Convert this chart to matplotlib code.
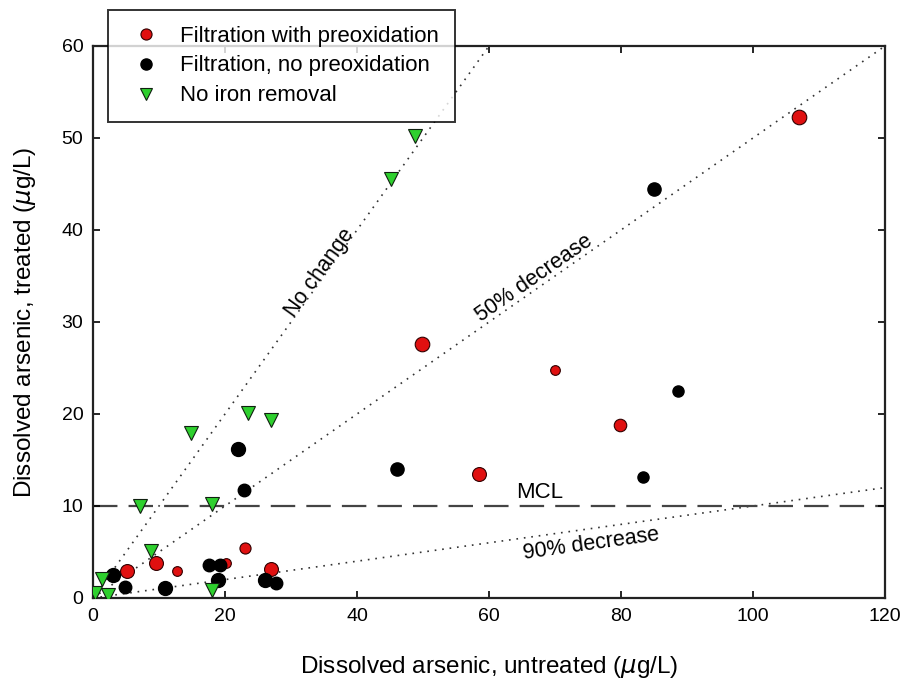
import numpy as np
import matplotlib
matplotlib.use('Agg')
import matplotlib.pyplot as plt

plt.rcParams['font.family'] = ['Liberation Sans', 'DejaVu Sans']

# ---------------
# Data (untreated vs treated arsenic, ug/L)

# Filtration with preoxidation
red_x = [107.0, 49.8, 70.0, 79.8, 58.5, 5.1, 9.5, 12.8, 20.2, 23.0, 26.9]
red_y = [52.3, 27.6, 24.8, 18.8, 13.5, 2.9, 3.8, 2.9, 3.8, 5.4, 3.2]
red_ms = [10.5, 10.5, 7, 9, 10, 10, 10, 7, 7, 8, 10]

# Filtration, no preoxidation
blk_x = [85.0, 88.7, 83.3, 46.0, 22.0, 22.9, 3.1, 4.8, 10.9, 17.5, 19.2, 19.0, 26.1, 27.8]
blk_y = [44.5, 22.5, 13.2, 14.0, 16.2, 11.7, 2.5, 1.2, 1.05, 3.6, 3.6, 2.0, 2.0, 1.6]
blk_ms = [9.5, 8, 8, 9.5, 10, 9, 10, 9, 10, 9, 9, 10, 10, 9]

# No iron removal
grn_x = [48.8, 45.2, 14.9, 23.5, 26.9, 7.1, 18.1, 8.8, 18.0, 1.3, 0.3, 2.3]
grn_y = [50.2, 45.5, 17.9, 20.1, 19.3, 10.0, 10.2, 5.1, 0.9, 2.1, 0.5, 0.3]

labels = ['Filtration with preoxidation', 'Filtration, no preoxidation', 'No iron removal']

# reference lines: fraction of untreated remaining
ref_ratio = [1.0, 0.5, 0.1]
ref_text = ['No change', '50% decrease', '90% decrease']
ref_text_x = [34.3, 66.8, 75.5]
ref_text_y = [35.3, 34.8, 5.9]
mcl = 10

# ---------------
# Plot

fig = plt.figure(figsize=(9.05, 6.88), dpi=100)
ax = fig.add_axes([93/905, 1-598/688, (885-93)/905, (598-46)/688])

xmin, xmax = 0, 120
ymin, ymax = 0, 60
ax.set_xlim(xmin, xmax)
ax.set_ylim(ymin, ymax)

xx = np.array([xmin, xmax])
for r in ref_ratio:
    ax.plot(xx, r*xx, linestyle=(0, (1, 3.5)), color='#333333', lw=1.2, zorder=1)

ax.axhline(mcl, color='#444444', lw=1.6, dashes=(11, 5), zorder=1)
ax.text(67.7, mcl+0.35, 'MCL', ha='center', va='bottom', fontsize=16)

# rotate labels along their lines, using the pixel slope
sx = 792/(xmax-xmin)
sy = 552/(ymax-ymin)
for r, t, tx, ty in zip(ref_ratio, ref_text, ref_text_x, ref_text_y):
    ang = np.degrees(np.arctan(r*sy/sx))
    ax.text(tx, ty, t, rotation=ang, rotation_mode='anchor', ha='center',
            va='center', fontsize=15.5, zorder=2)

for x, y, ms in zip(red_x, red_y, red_ms):
    ax.plot(x, y, 'o', ms=ms, mfc='#e01010', mec='#300000', mew=0.8, zorder=4)
for x, y, ms in zip(blk_x, blk_y, blk_ms):
    ax.plot(x, y, 'o', ms=ms, mfc='black', mec='black', zorder=4)
ax.plot(grn_x, grn_y, 'v', ms=10.5, mfc='#2ed02e', mec='#102010', mew=0.8,
        linestyle='none', zorder=5)

ax.set_xticks(np.arange(0, 121, 20))
ax.set_yticks(np.arange(0, 61, 10))
ax.tick_params(direction='in', length=5, width=1.2, top=True, right=True,
               labelsize=14, pad=7)
for s in ax.spines.values():
    s.set_linewidth(1.6)
    s.set_color('#222222')

ax.set_xlabel('Dissolved arsenic, untreated ($\\mu$g/L)', fontsize=17.5, labelpad=21)
ax.set_ylabel('Dissolved arsenic, treated ($\\mu$g/L)', fontsize=17.5, labelpad=17)

# legend (sits over the top spine)
h1, = ax.plot([], [], 'o', ms=8, mfc='#e01010', mec='#300000', mew=0.8)
h2, = ax.plot([], [], 'o', ms=8, mfc='black', mec='black')
h3, = ax.plot([], [], 'v', ms=9, mfc='#2ed02e', mec='#102010', mew=0.8)
leg = fig.legend([h1, h2, h3], labels, loc='upper left',
                 bbox_to_anchor=(108/905, 1-10/688), fontsize=16,
                 frameon=True, fancybox=False, edgecolor='black',
                 handletextpad=0.55, borderpad=0.7, labelspacing=0.4,
                 handlelength=2.0, borderaxespad=0)
leg.get_frame().set_linewidth(1.4)
leg.set_zorder(10)

fig.savefig('out.png', dpi=100)
